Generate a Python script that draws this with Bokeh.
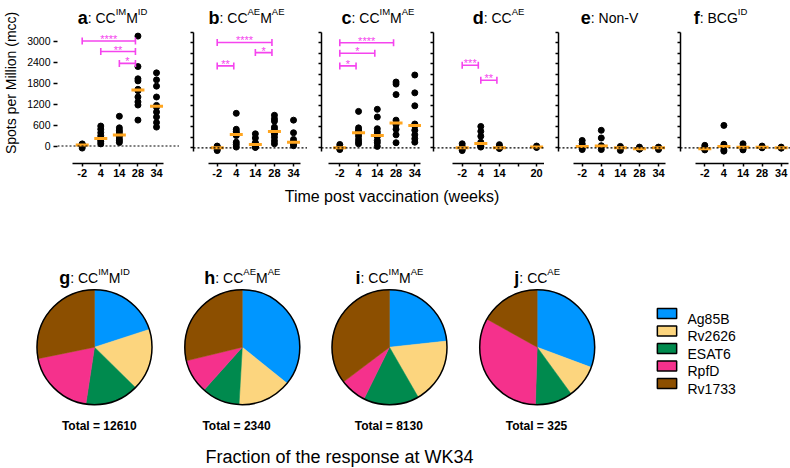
import math
import numpy as np
from bokeh.plotting import figure
from bokeh.layouts import column, row
from bokeh.models import Range1d, FixedTicker, Span, CustomJSTickFormatter
from bokeh.embed import file_html
from bokeh.resources import INLINE
from bokeh.core.properties import value

# ---------------- data ----------------
weeks = ["-2", "4", "14", "28", "34"]
weeks_d = ["-2", "4", "14", "", "20"]
yticks_a = [0, 600, 1200, 1800, 2400, 3000]
yticks_other = [0, 300, 600, 900, 1200, 1500, 1800, 2100, 2400, 2700, 3000, 3300]

a_pts = [
    [-60, -10, 20, 40, 50, 60],
    [60, 120, 180, 200, 210, 220, 290, 380, 480, 570],
    [100, 150, 200, 280, 300, 330, 400, 450, 520, 850],
    [740, 1170, 1260, 1400, 1580, 1620, 1860, 1920, 2270, 3140],
    [540, 670, 830, 970, 1110, 1160, 1400, 1710, 1890, 2090],
]
b_pts = [
    [-80, -40, -10, 10, 30, 50],
    [20, 95, 160, 350, 375, 390, 420, 470, 530, 985],
    [10, 20, 40, 70, 90, 100, 110, 150, 280, 400],
    [115, 200, 300, 395, 410, 520, 590, 760, 830, 930],
    [60, 100, 130, 145, 160, 170, 240, 430, 790],
]
c_pts = [
    [-50, -20, -5, 5, 30, 95],
    [115, 170, 240, 335, 420, 440, 460, 500, 570, 1040],
    [40, 143, 210, 325, 340, 370, 450, 545, 880, 1100],
    [145, 370, 530, 660, 700, 720, 790, 1520, 1820, 1880],
    [160, 260, 370, 500, 630, 650, 680, 1200, 1570, 2080],
]
d_pts = [
    [-80, -30, -5, 5, 40, 115],
    [20, 40, 80, 90, 160, 330, 470, 610],
    [-20, -10, 0, 10, 40, 90],
    [],
    [10, 20, 50],
]
e_pts = [
    [-50, 0, 25, 50, 115, 210],
    [-50, 40, 45, 60, 280, 500],
    [-75, -10, 10, 40],
    [-40, -30, -30, -20, 20],
    [-50, -20, 0, 5, 20],
]
f_pts = [
    [-60, -40, -30, 10, 70],
    [-95, -60, 35, 40, 100, 640],
    [-60, -30, 15, 20, 40, 115],
    [0, 15, 20, 50],
    [-10, 0, 20],
]

# significance brackets: (from category, to category, height, label)
a_sig = [(0, 3, 3000, "****"), (1, 3, 2700, "**"), (2, 3, 2360, "*")]
b_sig = [(0, 3, 3010, "****"), (2, 3, 2720, "*"), (0, 1, 2340, "**")]
c_sig = [(0, 3, 3000, "****"), (0, 2, 2700, "*"), (0, 1, 2340, "*")]
d_sig = [(0, 1, 2360, "***"), (1, 2, 1930, "**")]
e_sig = []
f_sig = []

# titles: (text, kind)  L = bold panel letter, N = normal, S = superscript
a_title = [("a", "L"), (": CC", "N"), ("IM", "S"), ("M", "N"), ("ID", "S")]
b_title = [("b", "L"), (": CC", "N"), ("AE", "S"), ("M", "N"), ("AE", "S")]
c_title = [("c", "L"), (": CC", "N"), ("IM", "S"), ("M", "N"), ("AE", "S")]
d_title = [("d", "L"), (": CC", "N"), ("AE", "S")]
e_title = [("e", "L"), (": Non-V", "N")]
f_title = [("f", "L"), (": BCG", "N"), ("ID", "S")]
g_title = [("g", "L"), (": CC", "N"), ("IM", "S"), ("M", "N"), ("ID", "S")]
h_title = [("h", "L"), (": CC", "N"), ("AE", "S"), ("M", "N"), ("AE", "S")]
i_title = [("i", "L"), (": CC", "N"), ("IM", "S"), ("M", "N"), ("AE", "S")]
j_title = [("j", "L"), (": CC", "N"), ("AE", "S")]

# pie data: percentage of the week-34 response per antigen (groups g, h, i, j)
antigens = ["Ag85B", "Rv2626", "ESAT6", "RpfD", "Rv1733"]
ag85b = [20.0, 35.8, 23.3, 30.7]
rv2626 = [17.4, 15.1, 18.4, 9.3]
esat6 = [15.0, 10.7, 15.6, 10.5]
rpfd = [19.4, 9.6, 7.4, 32.6]
rv1733 = [28.2, 28.8, 35.3, 16.9]
totals = [12610, 2340, 8130, 325]

# ---------------- style ----------------
FONT = "Liberation Sans"
ORANGE = "#FFA51F"
MAGENTA = "#F544EE"
pie_colors = ["#0096FF", "#FCD57E", "#008A4E", "#F5318C", "#8C4F00"]

REG = {' ': 278, ':': 278, 'C': 722, 'M': 833, 'I': 278, 'D': 722, 'A': 667, 'E': 667,
       'N': 722, 'o': 556, 'n': 556, '-': 333, 'V': 667, 'B': 667, 'G': 778}
BOLD = {'a': 556, 'b': 611, 'c': 556, 'd': 611, 'e': 556, 'f': 333, 'g': 611, 'h': 611,
        'i': 278, 'j': 278}
SIZE = {"L": 18, "N": 14, "S": 9.5}
DY = {"L": 0, "N": 0, "S": -6}


def rich(p, x, y, pieces):
    widths = []
    for t, k in pieces:
        tbl = BOLD if k == "L" else REG
        widths.append(sum(tbl.get(ch, 556) for ch in t) * SIZE[k] / 1000.0)
    off = -sum(widths) / 2.0
    for (t, k), w in zip(pieces, widths):
        p.text(x=[x], y=[y], text=[t], x_offset=off, y_offset=DY[k],
               text_font=value(FONT), text_font_size=value(f"{SIZE[k]}px"),
               text_font_style=value("bold" if k == "L" else "normal"),
               text_align=value("left"), text_baseline=value("alphabetic"),
               text_color="black")
        off += w


def bare(p):
    p.outline_line_color = None
    p.grid.visible = False


# ---------------- layout constants (page pixels) ----------------
W = 790
H = 468
TOP_H = 182        # height of the top row
FH = 163           # frame height of the dot plots (x axis line at its bottom)
PPU = 0.035        # px per spot unit
TITLE_BASE = 17.0


def make_panel(pts, sig, labels, title, fig_left, frame_left, frame_w, first_cat, px,
               title_cx, zero, labeled, xb):
    def ydat(py):
        return (zero - py) / PPU

    x0 = -(first_cat - frame_left) / px
    p = figure(frame_width=frame_w, frame_height=FH,
               x_range=Range1d(x0, x0 + frame_w / px),
               y_range=Range1d(ydat(FH), ydat(0)),
               output_backend="svg", toolbar_location=None,
               min_border_left=frame_left - fig_left, min_border_right=0,
               min_border_top=0, min_border_bottom=TOP_H - FH)
    p.outline_line_color = None
    p.xgrid.visible = False
    p.ygrid.visible = False

    xa = p.xaxis[0]
    xa.ticker = FixedTicker(ticks=list(range(len(labels))))
    xa.major_label_overrides = {i: lab for i, lab in enumerate(labels)}
    xa.bounds = xb
    xa.axis_line_width = 1.5
    xa.major_tick_out = 3
    xa.major_tick_in = 0
    xa.major_tick_line_width = 1.5
    xa.major_label_standoff = 2
    xa.major_label_text_font = FONT
    xa.major_label_text_font_size = "11px"
    xa.major_label_text_font_style = "bold"
    xa.major_label_text_color = "black"

    ya = p.yaxis[0]
    ya.axis_line_width = 1.5
    ya.major_tick_in = 0
    ya.major_tick_line_width = 1.5
    if labeled:
        ya.ticker = FixedTicker(ticks=yticks_a)
        ya.bounds = (-100, 3000)
        ya.axis_line_color = None
        ya.major_tick_out = 4
        ya.major_label_standoff = 3
        ya.major_label_text_font = FONT
        ya.major_label_text_font_size = "10.5px"
        ya.major_label_text_color = "black"
    else:
        ya.ticker = FixedTicker(ticks=yticks_other)
        ya.bounds = (-100, 3300)
        ya.major_tick_out = 3
        ya.formatter = CustomJSTickFormatter(code="return ''")

    p.add_layout(Span(location=0, dimension="width", line_color="black",
                      line_dash="2 2", line_width=1.2))

    xs, ys, mx, my = [], [], [], []
    for i, vals in enumerate(pts):
        xs += [i] * len(vals)
        ys += vals
        if len(vals):
            mx.append(i)
            my.append(float(np.median(vals)))
    p.scatter(xs, ys, size=6, color="black")
    p.rect(x=mx, y=my, width=13 / px, height=3, height_units="screen",
           fill_color=ORANGE, line_color=None)

    inset = 2.5 / px
    for (i, j, yv, lab) in sig:
        p.segment(x0=[i], y0=[yv], x1=[j - inset], y1=[yv], line_color=MAGENTA,
                  line_width=1.6)
        p.scatter(x=[i, j - inset], y=[yv, yv], marker="dash", angle=math.pi / 2, size=7,
                  line_color=MAGENTA, line_width=1.6)
        p.text(x=[(i + j - inset) / 2], y=[yv], text=[lab], y_offset=-2,
               text_font=value(FONT), text_font_size=value("11px"),
               text_align=value("center"), text_baseline=value("alphabetic"),
               text_color=MAGENTA)

    rich(p, x0 + (title_cx - frame_left) / px, ydat(TITLE_BASE), title)
    return p


# y-axis title of panel a, in its own narrow strip
YL_W = 20
ylab = figure(width=YL_W, height=TOP_H, x_range=Range1d(0, YL_W), y_range=Range1d(-TOP_H, 0),
              x_axis_location=None, y_axis_location=None, output_backend="svg",
              toolbar_location=None, min_border=0)
bare(ylab)
ylab.text(x=[10], y=[-92], text=["Spots per Million (mcc)"], angle=math.pi / 2,
          text_font=value(FONT), text_font_size=value("14px"),
          text_align=value("center"), text_baseline=value("middle"), text_color="black")

top = [
    ylab,
    make_panel(a_pts, a_sig, weeks, a_title, YL_W, 57, 122, 81.7, 18.58, 112.0, 145.5, True,
               (-0.52, 4.38)),
    make_panel(b_pts, b_sig, weeks, b_title, 179, 193, 114, 216.7, 19.08, 246.0, 147.3, False,
               (-0.46, 4.37)),
    make_panel(c_pts, c_sig, weeks, c_title, 307, 321, 100, 339.3, 18.75, 377.5, 147.3, False,
               (-0.6, 4.3)),
    make_panel(d_pts, d_sig, weeks_d, d_title, 421, 433, 111, 461.7, 18.6, 498.0, 147.3, False,
               (-0.52, 4.42)),
    make_panel(e_pts, e_sig, weeks, e_title, 544, 558, 108, 581.7, 19.08, 609.0, 147.3, False,
               (-0.46, 4.36)),
    make_panel(f_pts, f_sig, weeks, f_title, 666, 680, 110, 704.3, 19.1, 720.0, 147.3, False,
               (-0.49, 4.38)),
]

# ---------------- bottom ----------------
pb = figure(width=W, height=H - TOP_H, x_range=Range1d(0, W), y_range=Range1d(-H, -TOP_H),
            x_axis_location=None, y_axis_location=None, output_backend="svg",
            toolbar_location=None, min_border=0)
bare(pb)

pb.text(x=[391.5], y=[-195.5], text=["Time post vaccination (weeks)"],
        text_font=value(FONT), text_font_size=value("16px"),
        text_align=value("center"), text_baseline=value("alphabetic"), text_color="black")

pie_cx = [94.0, 241.8, 389.0, 536.7]
total_cx = [98.8, 236.0, 388.3, 536.0]
PIE_CY = 346.7
R = 57.5
fr = np.array([ag85b, rv2626, esat6, rpfd, rv1733], dtype=float)
pie_titles = [g_title, h_title, i_title, j_title]
for gi in range(4):
    fracs = fr[:, gi] / fr[:, gi].sum()
    cum = np.concatenate([[0.0], np.cumsum(fracs)])
    start = list(np.pi / 2 - 2 * np.pi * cum[:-1])
    end = list(np.pi / 2 - 2 * np.pi * cum[1:])
    n = len(fracs)
    pb.wedge(x=[pie_cx[gi]] * n, y=[-PIE_CY] * n, radius=R, start_angle=start,
             end_angle=end, direction="clock", fill_color=pie_colors,
             line_color=pie_colors, line_width=0.5)
    pb.circle(x=[pie_cx[gi]], y=[-PIE_CY], radius=R, fill_color=None,
              line_color="black", line_width=1.5)
    rich(pb, pie_cx[gi], -277.3, pie_titles[gi])

pb.text(x=total_cx, y=[-425.7] * 4, text=[f"Total = {t}" for t in totals],
        text_font=value(FONT), text_font_size=value("12px"),
        text_font_style=value("bold"), text_align=value("center"),
        text_baseline=value("alphabetic"), text_color="black")

pb.text(x=[339.0], y=[-456.0], text=["Fraction of the response at WK34"],
        text_font=value(FONT), text_font_size=value("18px"),
        text_align=value("center"), text_baseline=value("alphabetic"), text_color="black")

LEG_Y = [-(313 + k * 17.5) for k in range(len(antigens))]
pb.rect(x=[666.5] * len(antigens), y=LEG_Y, width=19.3, height=10,
        fill_color=pie_colors, line_color="black", line_width=1.5)
pb.text(x=[687] * len(antigens), y=[v - 5 for v in LEG_Y], text=antigens,
        text_font=value(FONT), text_font_size=value("14px"),
        text_align=value("left"), text_baseline=value("alphabetic"), text_color="black")

layout = column(row(*top, spacing=0), pb, spacing=0)
open("out.html", "w").write(file_html(layout, INLINE))
